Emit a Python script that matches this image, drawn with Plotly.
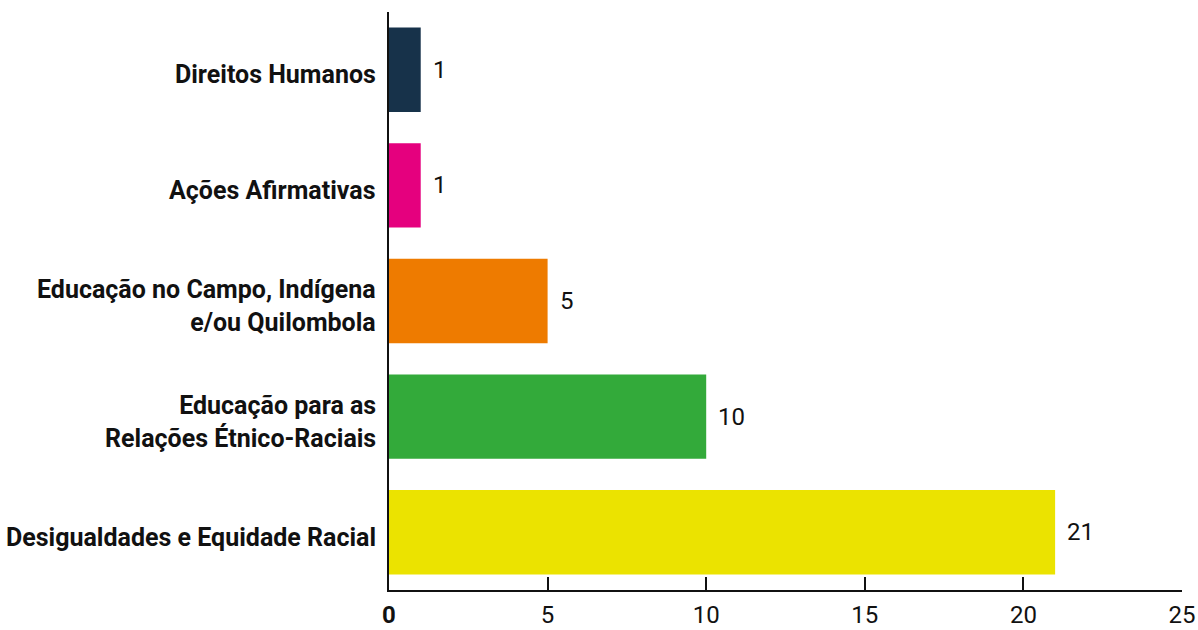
import plotly.graph_objects as go

# Themes, listed top to bottom
categories = [
    "Direitos Humanos",
    "Ações Afirmativas",
    "Educação no Campo, Indígena<br>e/ou Quilombola",
    "Educação para as<br>Relações Étnico-Raciais",
    "Desigualdades e Equidade Racial",
]
counts = [1, 1, 5, 10, 21]
colors = ["#17324a", "#e5007e", "#ee7b00", "#33aa3a", "#ebe300"]

x_ticks = [0, 5, 10, 15, 20, 25]
x_tick_text = ["<b>0</b>", "5", "10", "15", "20", "25"]

fig = go.Figure(
    go.Bar(
        x=counts,
        y=categories,
        orientation="h",
        marker=dict(color=colors, line=dict(width=0)),
        width=0.73,
        hoverinfo="skip",
    )
)

for cat, val in zip(categories, counts):
    # category name, right-aligned left of the axis
    fig.add_annotation(
        xref="paper", x=0, y=cat, text=f"<b>{cat}</b>", showarrow=False,
        xanchor="right", align="right", xshift=-11, yshift=-5,
        font=dict(family="Roboto", size=25, color="#111111"),
    )
    # value label to the right of the bar
    fig.add_annotation(
        x=val, y=cat, text=str(val), showarrow=False,
        xanchor="left", xshift=10,
        font=dict(family="Roboto", size=24, color="#111111"),
    )

fig.update_layout(
    width=1198, height=630,
    margin=dict(l=389, r=16, t=12, b=40),
    paper_bgcolor="white", plot_bgcolor="white",
    showlegend=False,
    font=dict(family="Roboto", size=24, color="#111111"),
)
fig.update_xaxes(
    range=[0, 25], tickvals=x_ticks, ticktext=x_tick_text,
    showgrid=False, zeroline=False, automargin=False,
    showline=True, linecolor="#111111", linewidth=2,
    ticks="inside", ticklen=13, tickwidth=2, tickcolor="#111111",
    ticklabelstandoff=2,
    tickfont=dict(family="Roboto", size=24, color="#111111"),
)
fig.update_yaxes(
    categoryorder="array", categoryarray=categories,
    range=[4.5, -0.5], showticklabels=False,
    showgrid=False, zeroline=False, automargin=False,
    showline=True, linecolor="#111111", linewidth=2,
    ticks="",
)

fig.write_html("out.html")
